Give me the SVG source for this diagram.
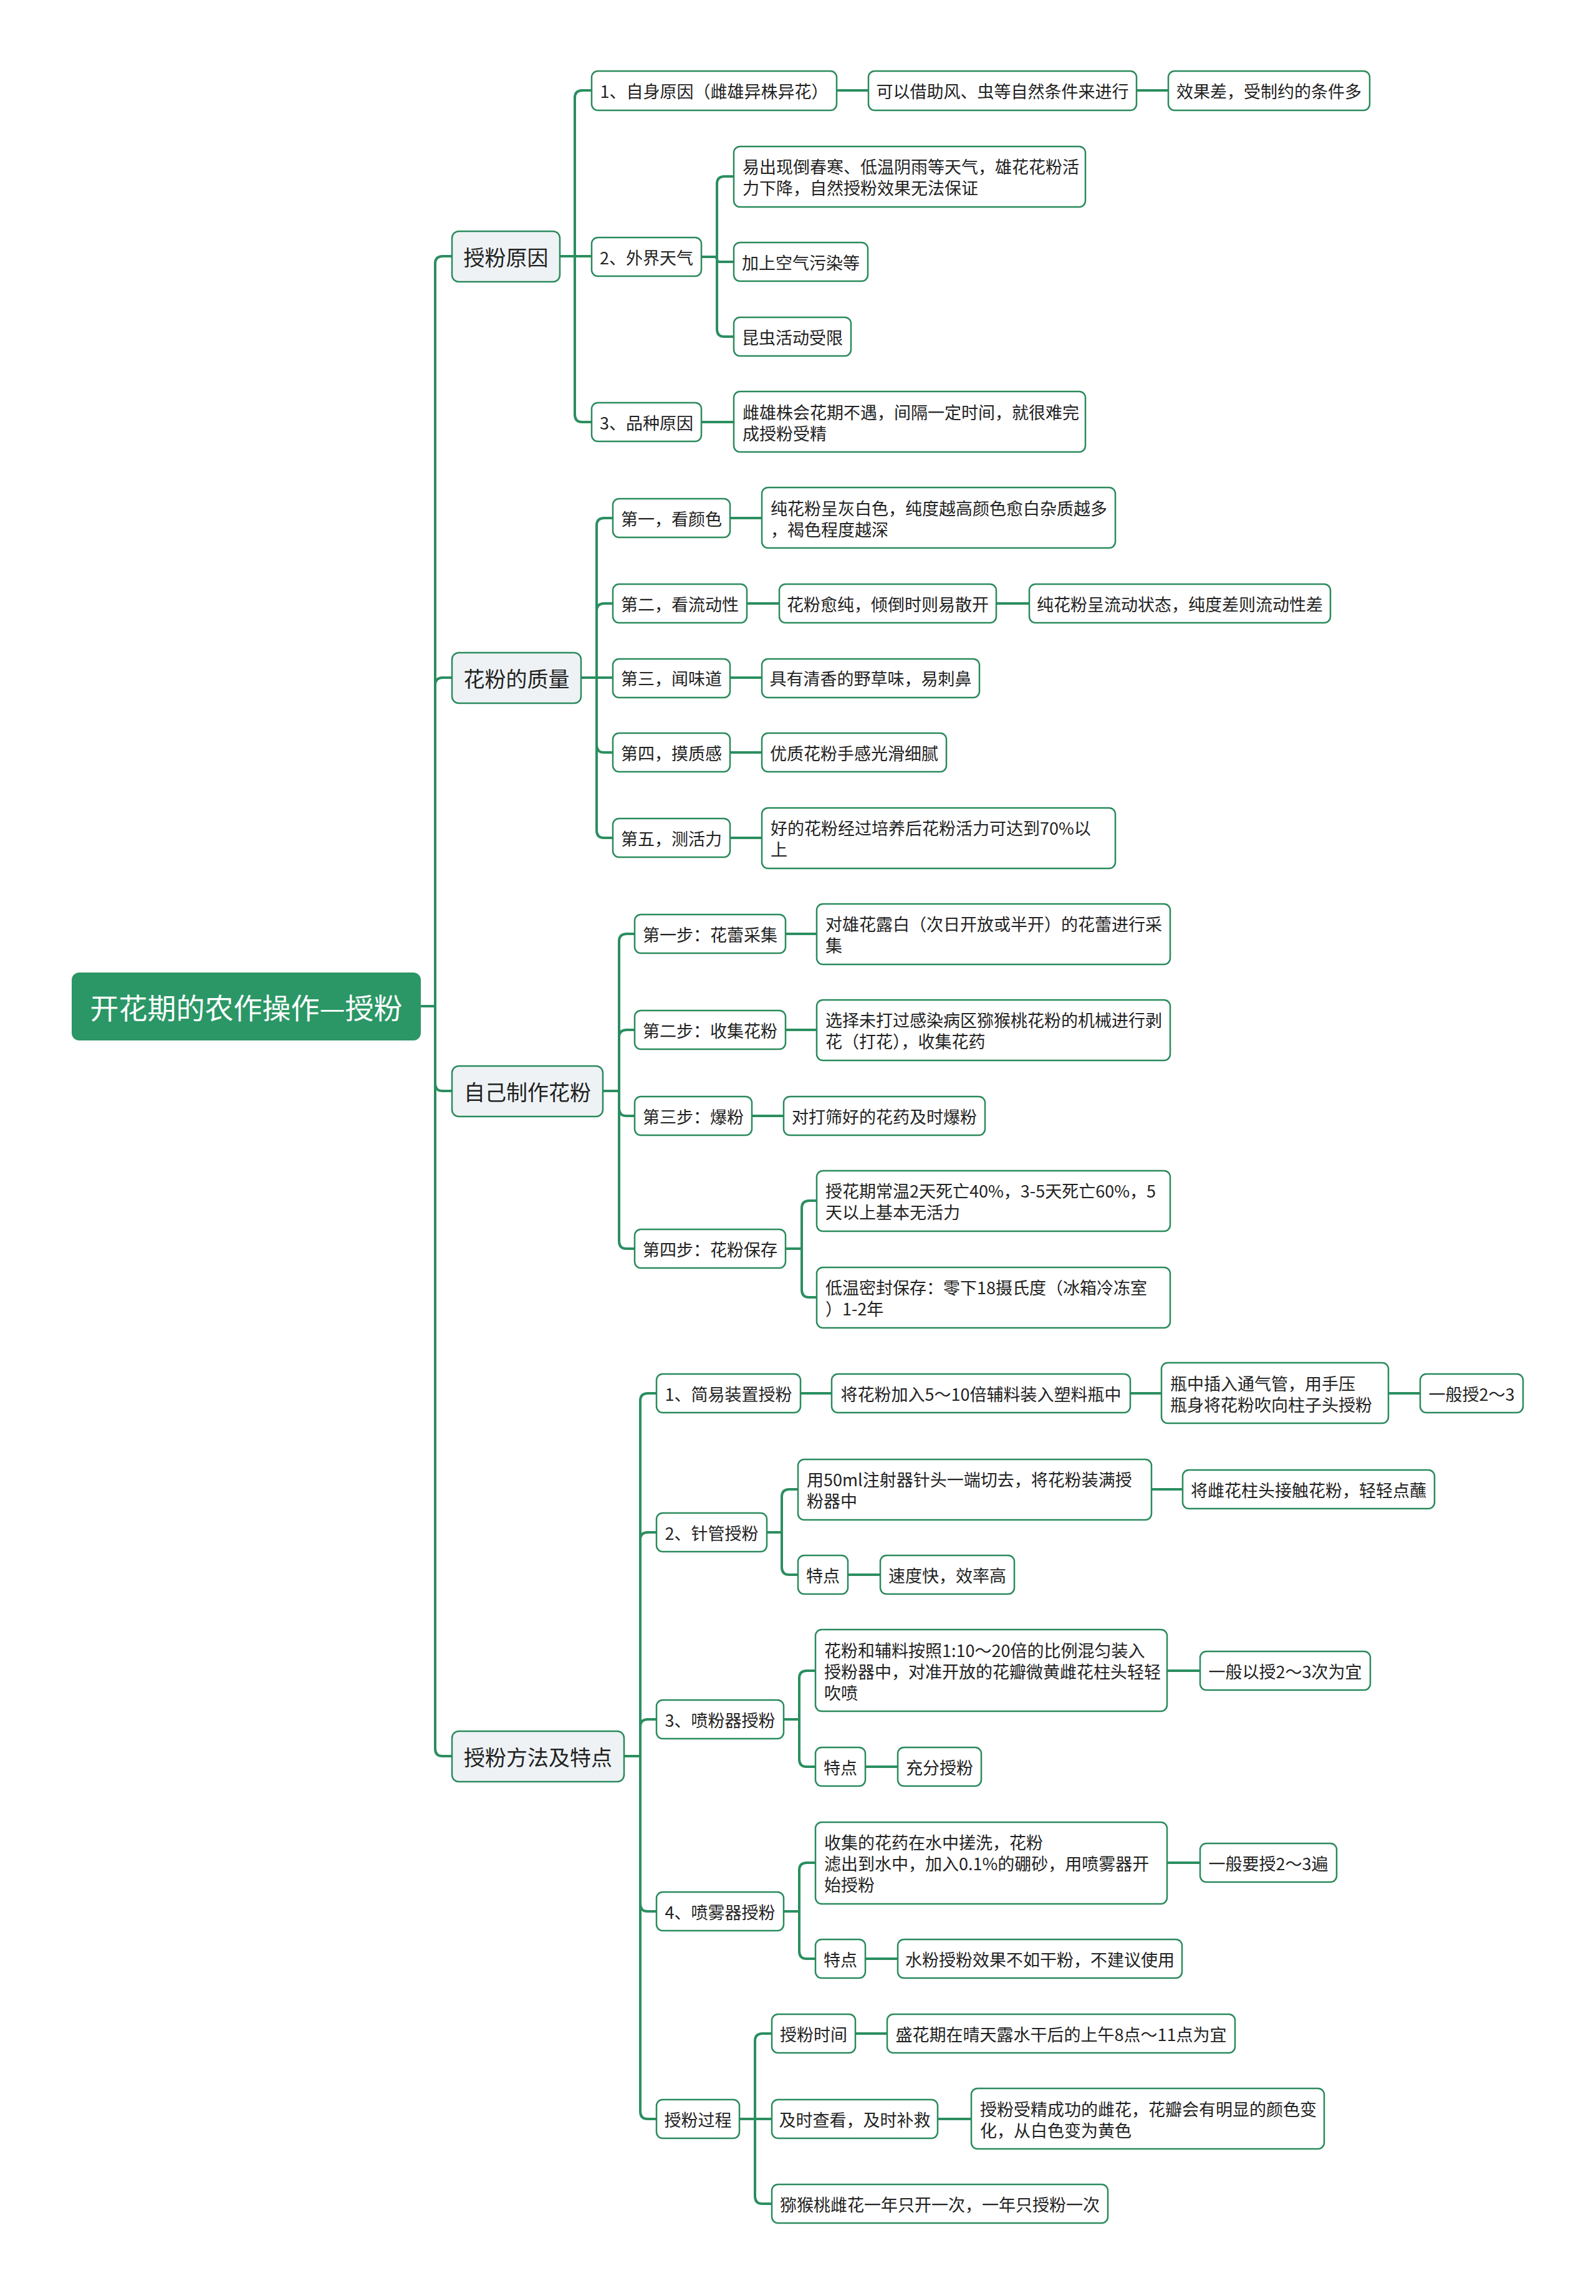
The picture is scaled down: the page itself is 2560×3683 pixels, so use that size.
<svg xmlns="http://www.w3.org/2000/svg" width="2560" height="3683" viewBox="0 0 2560 3683">
<style>
text{font-family:"Noto Sans CJK SC","Noto Sans",sans-serif;fill:#222;}
.n{fill:#fff;stroke:#2a8a5c;stroke-width:2.5;}
.l1{fill:#eef2f5;stroke:#2a8a5c;stroke-width:2.5;}
.root{fill:#2b9766;}
.t{font-size:27px;}
.t1{font-size:34px;}
.tr{font-size:46px;fill:#fff;}
.m{text-anchor:middle;dominant-baseline:central;}
.s{text-anchor:start;dominant-baseline:central;}
.c path{fill:none;stroke:#2b8e60;stroke-width:4;stroke-linecap:round;}
</style>
<rect width="2560" height="3683" fill="#fff"/>
<g class="c" id="connectors">
<path d="M675,1614 H698 V423 Q698,411 710,411 H725"/>
<path d="M675,1614 H698 V1099 Q698,1087 710,1087 H725"/>
<path d="M675,1614 H698 V1738 Q698,1750 710,1750 H725"/>
<path d="M675,1614 H698 V2805 Q698,2817 710,2817 H725"/>
<path d="M898,411 H922 V157 Q922,145 934,145 H949"/>
<path d="M898,411 H949"/>
<path d="M898,411 H922 V665 Q922,677 934,677 H949"/>
<path d="M1342,145 H1393"/>
<path d="M1823,145 H1874"/>
<path d="M1125,412 H1150 V295 Q1150,283 1162,283 H1177"/>
<path d="M1125,412 H1146 Q1150,412 1150,416 Q1150,420 1154,420 H1177"/>
<path d="M1125,412 H1150 V528 Q1150,540 1162,540 H1177"/>
<path d="M1125,677 H1177"/>
<path d="M932,1087 H957 V843 Q957,831 969,831 H983"/>
<path d="M932,1087 H957 V980 Q957,968 969,968 H983"/>
<path d="M932,1087 H983"/>
<path d="M932,1087 H957 V1195 Q957,1207 969,1207 H983"/>
<path d="M932,1087 H957 V1332 Q957,1344 969,1344 H983"/>
<path d="M1171,831 H1222"/>
<path d="M1198,968 H1250"/>
<path d="M1598,968 H1651"/>
<path d="M1171,1087 H1222"/>
<path d="M1171,1207 H1222"/>
<path d="M1171,1344 H1222"/>
<path d="M967,1750 H993 V1510 Q993,1498 1005,1498 H1018"/>
<path d="M967,1750 H993 V1664 Q993,1652 1005,1652 H1018"/>
<path d="M967,1750 H993 V1778 Q993,1790 1005,1790 H1018"/>
<path d="M967,1750 H993 V1991 Q993,2003 1005,2003 H1018"/>
<path d="M1260,1498 H1310"/>
<path d="M1260,1652 H1310"/>
<path d="M1206,1790 H1257"/>
<path d="M1260,2003 H1286 V1938 Q1286,1926 1298,1926 H1310"/>
<path d="M1260,2003 H1286 V2069 Q1286,2081 1298,2081 H1310"/>
<path d="M1001,2817 H1027 V2247 Q1027,2235 1039,2235 H1053"/>
<path d="M1001,2817 H1027 V2470 Q1027,2458 1039,2458 H1053"/>
<path d="M1001,2817 H1027 V2770 Q1027,2758 1039,2758 H1053"/>
<path d="M1001,2817 H1027 V3054 Q1027,3066 1039,3066 H1053"/>
<path d="M1001,2817 H1027 V3387 Q1027,3399 1039,3399 H1053"/>
<path d="M1284,2235 H1334"/>
<path d="M1813,2235 H1863"/>
<path d="M2227,2235 H2278"/>
<path d="M1230,2458 H1254 V2401 Q1254,2389 1266,2389 H1280"/>
<path d="M1230,2458 H1254 V2514 Q1254,2526 1266,2526 H1280"/>
<path d="M1847,2389 H1897"/>
<path d="M1360,2526 H1412"/>
<path d="M1257,2758 H1282 V2692 Q1282,2680 1294,2680 H1308"/>
<path d="M1257,2758 H1282 V2822 Q1282,2834 1294,2834 H1308"/>
<path d="M1872,2680 H1925"/>
<path d="M1388,2834 H1440"/>
<path d="M1257,3066 H1282 V3000 Q1282,2988 1294,2988 H1308"/>
<path d="M1257,3066 H1282 V3130 Q1282,3142 1294,3142 H1308"/>
<path d="M1872,2988 H1925"/>
<path d="M1388,3142 H1440"/>
<path d="M1186,3399 H1211 V3274 Q1211,3262 1223,3262 H1238"/>
<path d="M1186,3399 H1238"/>
<path d="M1186,3399 H1211 V3523 Q1211,3535 1223,3535 H1238"/>
<path d="M1372,3262 H1423"/>
<path d="M1504,3399 H1558"/>
</g>

<g id="root"><rect class="root" x="115" y="1560" width="560" height="109" rx="12"/><text class="tr m" x="395" y="1614">开花期的农作操作—授粉</text></g>

<g id="n-reason"><rect class="l1" x="725" y="371" width="173" height="81" rx="11"/><text class="t1 m" x="811.5" y="411">授粉原因</text></g>
<g id="n-quality"><rect class="l1" x="725" y="1047" width="207" height="81" rx="11"/><text class="t1 m" x="828.5" y="1087">花粉的质量</text></g>
<g id="n-make"><rect class="l1" x="725" y="1710" width="242" height="81" rx="11"/><text class="t1 m" x="846" y="1750">自己制作花粉</text></g>
<g id="n-method"><rect class="l1" x="725" y="2777" width="276" height="81" rx="11"/><text class="t1 m" x="863" y="2817">授粉方法及特点</text></g>

<g id="n-r1"><rect class="n" x="949" y="114" width="393" height="63" rx="10"/><text class="t m" x="1145.5" y="145">1、自身原因（雌雄异株异花）</text></g>
<g id="n-r1a"><rect class="n" x="1393" y="114" width="430" height="63" rx="10"/><text class="t m" x="1608" y="145">可以借助风、虫等自然条件来进行</text></g>
<g id="n-r1b"><rect class="n" x="1874" y="114" width="323" height="63" rx="10"/><text class="t m" x="2035.5" y="145">效果差，受制约的条件多</text></g>
<g id="n-r2"><rect class="n" x="949" y="381" width="176" height="62" rx="10"/><text class="t m" x="1037" y="412">2、外界天气</text></g>
<g id="n-r2a"><rect class="n" x="1177" y="235" width="564" height="97" rx="10"/><text class="t s" x="1191" y="283"><tspan x="1191" dy="-17">易出现倒春寒、低温阴雨等天气，雄花花粉活</tspan><tspan x="1191" dy="34">力下降，自然授粉效果无法保证</tspan></text></g>
<g id="n-r2b"><rect class="n" x="1177" y="389" width="215" height="62" rx="10"/><text class="t m" x="1284.5" y="420">加上空气污染等</text></g>
<g id="n-r2c"><rect class="n" x="1177" y="509" width="188" height="62" rx="10"/><text class="t m" x="1271" y="540">昆虫活动受限</text></g>
<g id="n-r3"><rect class="n" x="949" y="646" width="176" height="62" rx="10"/><text class="t m" x="1037" y="677">3、品种原因</text></g>
<g id="n-r3a"><rect class="n" x="1177" y="628" width="564" height="97" rx="10"/><text class="t s" x="1191" y="677"><tspan x="1191" dy="-17">雌雄株会花期不遇，间隔一定时间，就很难完</tspan><tspan x="1191" dy="34">成授粉受精</tspan></text></g>

<g id="n-q1"><rect class="n" x="983" y="800" width="188" height="62" rx="10"/><text class="t m" x="1077" y="831">第一，看颜色</text></g>
<g id="n-q1a"><rect class="n" x="1222" y="782" width="567" height="97" rx="10"/><text class="t s" x="1236" y="831"><tspan x="1236" dy="-17">纯花粉呈灰白色，纯度越高颜色愈白杂质越多</tspan><tspan x="1236" dy="34">，褐色程度越深</tspan></text></g>
<g id="n-q2"><rect class="n" x="983" y="937" width="215" height="62" rx="10"/><text class="t m" x="1090.5" y="968">第二，看流动性</text></g>
<g id="n-q2a"><rect class="n" x="1250" y="937" width="348" height="62" rx="10"/><text class="t m" x="1424" y="968">花粉愈纯，倾倒时则易散开</text></g>
<g id="n-q2b"><rect class="n" x="1651" y="937" width="483" height="62" rx="10"/><text class="t m" x="1892.5" y="968">纯花粉呈流动状态，纯度差则流动性差</text></g>
<g id="n-q3"><rect class="n" x="983" y="1057" width="188" height="62" rx="10"/><text class="t m" x="1077" y="1087">第三，闻味道</text></g>
<g id="n-q3a"><rect class="n" x="1222" y="1057" width="349" height="62" rx="10"/><text class="t m" x="1396.5" y="1087">具有清香的野草味，易刺鼻</text></g>
<g id="n-q4"><rect class="n" x="983" y="1176" width="188" height="62" rx="10"/><text class="t m" x="1077" y="1207">第四，摸质感</text></g>
<g id="n-q4a"><rect class="n" x="1222" y="1176" width="296" height="62" rx="10"/><text class="t m" x="1370" y="1207">优质花粉手感光滑细腻</text></g>
<g id="n-q5"><rect class="n" x="983" y="1313" width="188" height="62" rx="10"/><text class="t m" x="1077" y="1344">第五，测活力</text></g>
<g id="n-q5a"><rect class="n" x="1222" y="1296" width="567" height="97" rx="10"/><text class="t s" x="1236" y="1344"><tspan x="1236" dy="-17">好的花粉经过培养后花粉活力可达到70%以</tspan><tspan x="1236" dy="34">上</tspan></text></g>

<g id="n-m1"><rect class="n" x="1018" y="1467" width="242" height="62" rx="10"/><text class="t m" x="1139" y="1498">第一步：花蕾采集</text></g>
<g id="n-m1a"><rect class="n" x="1310" y="1450" width="567" height="97" rx="10"/><text class="t s" x="1324" y="1498"><tspan x="1324" dy="-17">对雄花露白（次日开放或半开）的花蕾进行采</tspan><tspan x="1324" dy="34">集</tspan></text></g>
<g id="n-m2"><rect class="n" x="1018" y="1621" width="242" height="62" rx="10"/><text class="t m" x="1139" y="1652">第二步：收集花粉</text></g>
<g id="n-m2a"><rect class="n" x="1310" y="1604" width="567" height="97" rx="10"/><text class="t s" x="1324" y="1652"><tspan x="1324" dy="-17">选择未打过感染病区猕猴桃花粉的机械进行剥</tspan><tspan x="1324" dy="34">花（打花），收集花药</tspan></text></g>
<g id="n-m3"><rect class="n" x="1018" y="1759" width="188" height="62" rx="10"/><text class="t m" x="1112" y="1790">第三步：爆粉</text></g>
<g id="n-m3a"><rect class="n" x="1257" y="1759" width="323" height="62" rx="10"/><text class="t m" x="1418.5" y="1790">对打筛好的花药及时爆粉</text></g>
<g id="n-m4"><rect class="n" x="1018" y="1972" width="242" height="62" rx="10"/><text class="t m" x="1139" y="2003">第四步：花粉保存</text></g>
<g id="n-m4a"><rect class="n" x="1310" y="1878" width="567" height="97" rx="10"/><text class="t s" x="1324" y="1926"><tspan x="1324" dy="-17">授花期常温2天死亡40%，3-5天死亡60%，5</tspan><tspan x="1324" dy="34">天以上基本无活力</tspan></text></g>
<g id="n-m4b"><rect class="n" x="1310" y="2033" width="567" height="97" rx="10"/><text class="t s" x="1324" y="2081"><tspan x="1324" dy="-17">低温密封保存：零下18摄氏度（冰箱冷冻室</tspan><tspan x="1324" dy="34">）1-2年</tspan></text></g>

<g id="n-p1"><rect class="n" x="1053" y="2204" width="231" height="62" rx="10"/><text class="t m" x="1168.5" y="2235">1、简易装置授粉</text></g>
<g id="n-p1a"><rect class="n" x="1334" y="2204" width="479" height="62" rx="10"/><text class="t m" x="1573.5" y="2235">将花粉加入5～10倍辅料装入塑料瓶中</text></g>
<g id="n-p1b"><rect class="n" x="1863" y="2186" width="364" height="97" rx="10"/><text class="t s" x="1877" y="2235"><tspan x="1877" dy="-17">瓶中插入通气管，用手压</tspan><tspan x="1877" dy="34">瓶身将花粉吹向柱子头授粉</tspan></text></g>
<g id="n-p1c"><rect class="n" x="2278" y="2204" width="165" height="62" rx="10"/><text class="t m" x="2360.5" y="2235">一般授2～3</text></g>
<g id="n-p2"><rect class="n" x="1053" y="2427" width="177" height="62" rx="10"/><text class="t m" x="1141.5" y="2458">2、针管授粉</text></g>
<g id="n-p2a"><rect class="n" x="1280" y="2341" width="567" height="97" rx="10"/><text class="t s" x="1294" y="2389"><tspan x="1294" dy="-17">用50ml注射器针头一端切去，将花粉装满授</tspan><tspan x="1294" dy="34">粉器中</tspan></text></g>
<g id="n-p2b"><rect class="n" x="1897" y="2358" width="404" height="62" rx="10"/><text class="t m" x="2099" y="2389">将雌花柱头接触花粉，轻轻点蘸</text></g>
<g id="n-p2c"><rect class="n" x="1280" y="2495" width="80" height="62" rx="10"/><text class="t m" x="1320" y="2526">特点</text></g>
<g id="n-p2d"><rect class="n" x="1412" y="2495" width="215" height="62" rx="10"/><text class="t m" x="1519.5" y="2526">速度快，效率高</text></g>
<g id="n-p3"><rect class="n" x="1053" y="2727" width="204" height="62" rx="10"/><text class="t m" x="1155" y="2758">3、喷粉器授粉</text></g>
<g id="n-p3a"><rect class="n" x="1308" y="2614" width="564" height="131" rx="10"/><text class="t s" x="1322" y="2680"><tspan x="1322" dy="-34">花粉和辅料按照1:10～20倍的比例混匀装入</tspan><tspan x="1322" dy="34">授粉器中，对准开放的花瓣微黄雌花柱头轻轻</tspan><tspan x="1322" dy="34">吹喷</tspan></text></g>
<g id="n-p3b"><rect class="n" x="1925" y="2649" width="273" height="62" rx="10"/><text class="t m" x="2061.5" y="2680">一般以授2～3次为宜</text></g>
<g id="n-p3c"><rect class="n" x="1308" y="2803" width="80" height="62" rx="10"/><text class="t m" x="1348" y="2834">特点</text></g>
<g id="n-p3d"><rect class="n" x="1440" y="2803" width="134" height="62" rx="10"/><text class="t m" x="1507" y="2834">充分授粉</text></g>
<g id="n-p4"><rect class="n" x="1053" y="3035" width="204" height="62" rx="10"/><text class="t m" x="1155" y="3066">4、喷雾器授粉</text></g>
<g id="n-p4a"><rect class="n" x="1308" y="2923" width="564" height="131" rx="10"/><text class="t s" x="1322" y="2988"><tspan x="1322" dy="-34">收集的花药在水中搓洗，花粉</tspan><tspan x="1322" dy="34">滤出到水中，加入0.1%的硼砂，用喷雾器开</tspan><tspan x="1322" dy="34">始授粉</tspan></text></g>
<g id="n-p4b"><rect class="n" x="1925" y="2957" width="219" height="62" rx="10"/><text class="t m" x="2034.5" y="2988">一般要授2～3遍</text></g>
<g id="n-p4c"><rect class="n" x="1308" y="3111" width="80" height="62" rx="10"/><text class="t m" x="1348" y="3142">特点</text></g>
<g id="n-p4d"><rect class="n" x="1440" y="3111" width="456" height="62" rx="10"/><text class="t m" x="1668" y="3142">水粉授粉效果不如干粉，不建议使用</text></g>
<g id="n-p5"><rect class="n" x="1053" y="3368" width="133" height="62" rx="10"/><text class="t m" x="1119.5" y="3399">授粉过程</text></g>
<g id="n-p5a"><rect class="n" x="1238" y="3231" width="134" height="62" rx="10"/><text class="t m" x="1305" y="3262">授粉时间</text></g>
<g id="n-p5b"><rect class="n" x="1423" y="3231" width="558" height="62" rx="10"/><text class="t m" x="1702" y="3262">盛花期在晴天露水干后的上午8点～11点为宜</text></g>
<g id="n-p5c"><rect class="n" x="1238" y="3368" width="266" height="62" rx="10"/><text class="t m" x="1371" y="3399">及时查看，及时补救</text></g>
<g id="n-p5d"><rect class="n" x="1558" y="3350" width="566" height="97" rx="10"/><text class="t s" x="1572" y="3399"><tspan x="1572" dy="-17">授粉受精成功的雌花，花瓣会有明显的颜色变</tspan><tspan x="1572" dy="34">化，从白色变为黄色</tspan></text></g>
<g id="n-p5e"><rect class="n" x="1238" y="3504" width="539" height="62" rx="10"/><text class="t m" x="1507.5" y="3535">猕猴桃雌花一年只开一次，一年只授粉一次</text></g>
</svg>
